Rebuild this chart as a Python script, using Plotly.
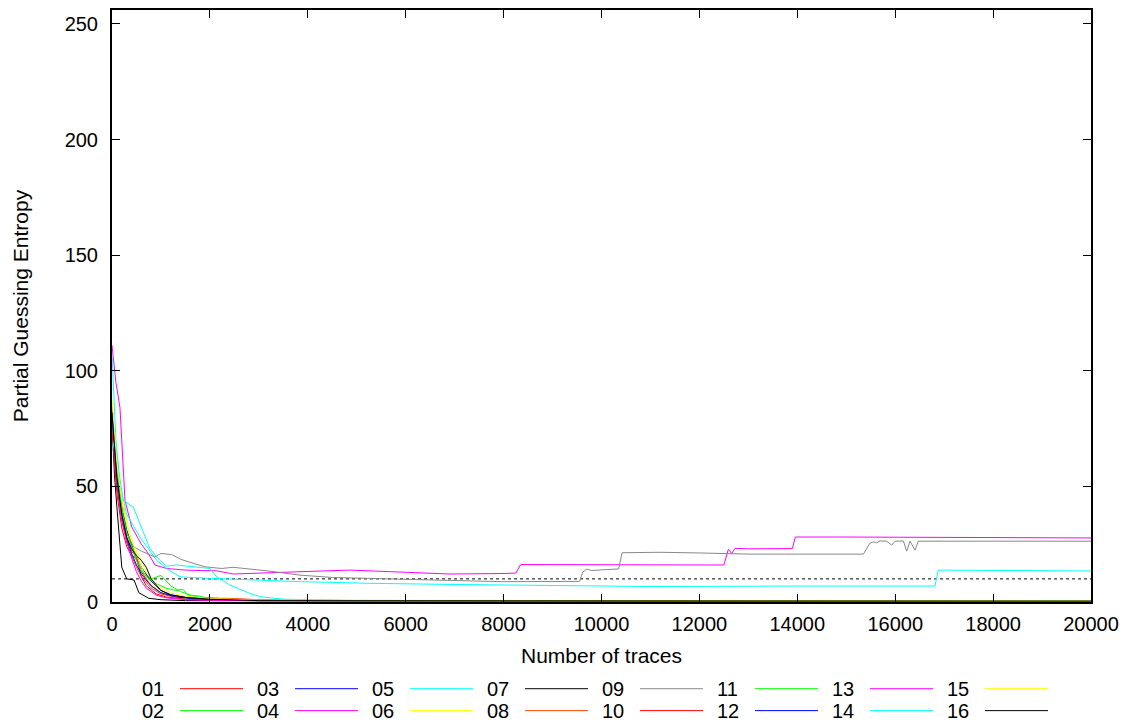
import plotly.graph_objects as go

# ---------------- data ----------------
names = ["01", "02", "03", "04", "05", "06", "07", "08",
         "09", "10", "11", "12", "13", "14", "15", "16"]
colors = ["#ff0000", "#00ff00", "#0000ff", "#ff00ff", "#00ffff", "#ffff00", "#000000", "#ff4500",
          "#888888", "#ff0000", "#00ff00", "#0000ff", "#ff00ff", "#00ffff", "#ffff00", "#000000"]

s01_x = [0, 100, 200, 300, 400, 500, 600, 800, 1000, 1200, 1500, 2000, 2500, 3000, 5000, 20000]
s01_y = [82, 55, 38, 28, 22, 19.5, 13, 7, 4, 2.8, 2, 1.5, 1.2, 0.8, 0.5, 0.4]

s02_x = [0, 100, 200, 300, 400, 500, 600, 800, 1000, 1200, 1400, 1600, 1800, 2000, 3000, 5000, 20000]
s02_y = [80, 58, 42, 31, 24, 18, 13, 10, 11.5, 7, 4.5, 3, 2.5, 1.5, 0.7, 0.5, 0.4]

s03_x = [0, 100, 200, 300, 400, 500, 600, 800, 1000, 1200, 1500, 2000, 3000, 20000]
s03_y = [78, 54, 40, 31, 25, 20, 15, 9, 5, 3.2, 2, 1.2, 0.7, 0.4]

s04_x = [0, 80, 163, 265, 402, 600, 742, 878, 1117, 1500, 1800, 2138, 2479, 3000, 3500, 3841,
         4862, 5884, 6905, 7926, 8250, 8350, 9500, 11000, 12500, 12591, 12660, 12728, 13000,
         13900, 13960, 15000, 17000, 20000]
s04_y = [111, 95, 84, 44, 32.5, 25, 21, 16, 14.5, 13.8, 13.6, 13.5, 12.1, 12.5, 13.1, 13.1,
         13.8, 13.1, 12.1, 12.3, 12.5, 16.2, 16.2, 16, 16, 22.8, 21, 23.2, 23,
         23.1, 28.1, 28.1, 28, 27.7]

s05_x = [0, 80, 163, 300, 572, 913, 1150, 1389, 1700, 2138, 2819, 3841, 4862, 5203, 6905,
         8500, 11000, 14000, 16813, 16880, 18000, 20000]
s05_y = [107, 70, 50, 38, 28, 18, 14, 10.9, 10.5, 10.1, 9.5, 8.8, 8.3, 8.1, 7.6,
         7.2, 6.7, 6.9, 6.9, 13.8, 13.6, 13.4]

s06_x = [0, 100, 200, 300, 400, 500, 600, 700, 800, 1000, 1200, 1500, 2000, 3000, 20000]
s06_y = [84, 62, 46, 35, 26, 20, 15, 11, 8, 4, 2.7, 1.5, 1, 0.6, 0.4]

s07_x = [0, 50, 100, 200, 300, 450, 550, 750, 1000, 1500, 20000]
s07_y = [80, 55, 41, 15, 10, 9.5, 4, 1.6, 1, 0.6, 0.3]

s08_x = [0, 100, 200, 300, 400, 500, 600, 800, 1000, 1200, 1500, 2000, 2500, 3000, 5000, 20000]
s08_y = [76, 50, 35, 26, 20, 15, 11, 6, 3.5, 2.5, 2, 1.8, 1.5, 1, 0.6, 0.5]

s09_x = [0, 100, 200, 300, 436, 600, 878, 1000, 1219, 1400, 1559, 1900, 2240, 2472, 3160, 3841,
         4520, 5884, 7000, 7926, 9550, 9620, 9700, 9800, 10000, 10350, 10420, 11195, 12000,
         13036, 15350, 15486, 15554, 15622, 15690, 15826, 15928, 15997, 16167, 16235, 16303,
         16405, 16473, 18000, 20000]
s09_y = [80, 52, 38, 30, 24, 22, 19.5, 21, 20.5, 18.5, 17.4, 15.2, 14.5, 15, 13.5, 11.6,
         10.6, 9.8, 9.3, 8.8, 8.9, 13, 14.2, 13.6, 13.9, 14.3, 21.3, 21.5, 21.2,
         20.7, 20.7, 25.5, 26, 25.6, 26.4, 26.3, 24.6, 26.3, 26.4, 22, 26.3,
         22.4, 26.3, 26.3, 26.3]

s10_x = [0, 100, 200, 300, 400, 500, 600, 700, 900, 1100, 1500, 2000, 3000, 20000]
s10_y = [74, 47, 32, 24, 20, 19, 11, 7, 3.5, 2.2, 1.2, 0.8, 0.5, 0.4]

s11_x = [0, 100, 200, 300, 400, 500, 600, 700, 900, 1100, 1300, 1450, 1550, 1800, 2000, 3000, 20000]
s11_y = [79, 56, 40, 30, 24, 18, 14, 11, 8, 6, 5, 5.5, 3, 2, 1.2, 0.6, 0.4]

s12_x = [0, 100, 200, 300, 400, 500, 600, 800, 1000, 1300, 1600, 2000, 3000, 20000]
s12_y = [81, 52, 36, 27, 21, 16, 12, 7, 4, 2.2, 1.5, 1, 0.6, 0.4]

s13_x = [0, 100, 200, 300, 400, 500, 600, 700, 900, 1100, 1500, 2000, 20000]
s13_y = [86, 52, 36, 26, 19, 13, 9, 6, 3, 1.8, 1, 0.7, 0.4]

s14_x = [0, 61, 150, 231, 436, 640, 776, 980, 1117, 1321, 1798, 2002, 2138, 2343, 2411, 2819,
         3023, 3500, 5000, 20000]
s14_y = [65, 71, 55, 44, 41, 30, 23, 18, 15.5, 16, 15, 14.5, 10.9, 8, 7.3, 3.7,
         2.3, 1.2, 0.6, 0.5]

s15_x = [0, 100, 200, 300, 400, 500, 600, 700, 900, 1000, 1200, 1500, 2000, 3000, 20000]
s15_y = [88, 60, 44, 34, 27, 22, 18, 13, 8, 6, 4, 2.5, 1.5, 0.8, 0.5]

s16_x = [0, 100, 200, 300, 400, 500, 600, 700, 800, 1000, 1200, 1500, 2000, 3000, 20000]
s16_y = [82, 54, 38, 28, 23, 20, 18, 15, 10, 5, 3, 2, 1.2, 0.6, 0.4]

series_x = [s01_x, s02_x, s03_x, s04_x, s05_x, s06_x, s07_x, s08_x,
            s09_x, s10_x, s11_x, s12_x, s13_x, s14_x, s15_x, s16_x]
series_y = [s01_y, s02_y, s03_y, s04_y, s05_y, s06_y, s07_y, s08_y,
            s09_y, s10_y, s11_y, s12_y, s13_y, s14_y, s15_y, s16_y]

threshold = 10
x_range = [0, 20000]
y_range = [0, 256]
x_ticks = list(range(0, 20001, 2000))
x_ticklabels = [str(v) for v in x_ticks]
y_ticks = [0, 50, 100, 150, 200, 250]
y_ticklabels = [str(v) for v in y_ticks]

# ---------------- figure ----------------
# the page body has an 8px margin, so the figure is 8px smaller and shifted
OFF = 8
W, H = 1134 - OFF, 728 - OFF
L, R, T, B = 112, 1091, 8, 602          # plot area in window pixels
FONT = "Liberation Sans, Arial, sans-serif"

fig = go.Figure()

fig.add_trace(go.Scatter(x=x_range, y=[threshold, threshold], mode="lines",
                         line=dict(color="black", width=1, dash="dot"),
                         showlegend=False, hoverinfo="skip"))

for nm, col, xs, ys in zip(names, colors, series_x, series_y):
    fig.add_trace(go.Scatter(x=xs, y=ys, mode="lines", name=nm,
                             line=dict(color=col, width=1), showlegend=False))

# manual gnuplot-style legend (label left, sample line right)
def px2paper_x(px):
    return (px - L) / (R - L)

def px2paper_y(py):
    return (B - py) / (B - T)

shapes = []
annotations = []
for i, (nm, col) in enumerate(zip(names, colors)):
    c, r = i // 2, i % 2
    ty = 689 + 22 * r
    annotations.append(dict(xref="paper", yref="paper", x=px2paper_x(140 + 115 * c),
                            y=px2paper_y(ty), text=nm, showarrow=False,
                            xanchor="left", yanchor="middle",
                            font=dict(family=FONT, size=20, color="black")))
    shapes.append(dict(type="line", xref="paper", yref="paper",
                       x0=px2paper_x(180 + 115 * c), x1=px2paper_x(243 + 115 * c),
                       y0=px2paper_y(ty), y1=px2paper_y(ty),
                       line=dict(color=col, width=1)))

fig.update_layout(
    width=W, height=H,
    margin=dict(l=L - OFF, r=1134 - R, t=T - OFF, b=728 - B, pad=0),
    paper_bgcolor="white", plot_bgcolor="white",
    font=dict(family=FONT, size=20, color="black"),
    shapes=shapes, annotations=annotations,
    showlegend=False,
)
fig.update_xaxes(range=x_range, tickvals=x_ticks, ticktext=x_ticklabels,
                 showgrid=False, zeroline=False,
                 showline=True, linecolor="black", linewidth=2, mirror="ticks",
                 ticks="inside", ticklen=8, tickwidth=1, tickcolor="black",
                 tickfont=dict(family=FONT, size=20),
                 title=dict(text="Number of traces", standoff=14,
                            font=dict(family=FONT, size=21)),
                 ticklabelstandoff=3)
fig.update_yaxes(range=y_range, tickvals=y_ticks, ticktext=y_ticklabels,
                 showgrid=False, zeroline=False,
                 showline=True, linecolor="black", linewidth=2, mirror="ticks",
                 ticks="inside", ticklen=8, tickwidth=1, tickcolor="black",
                 tickfont=dict(family=FONT, size=20),
                 title=dict(text="Partial Guessing Entropy", standoff=30,
                            font=dict(family=FONT, size=21)),
                 ticklabelstandoff=8)

fig.write_html("out.html")
